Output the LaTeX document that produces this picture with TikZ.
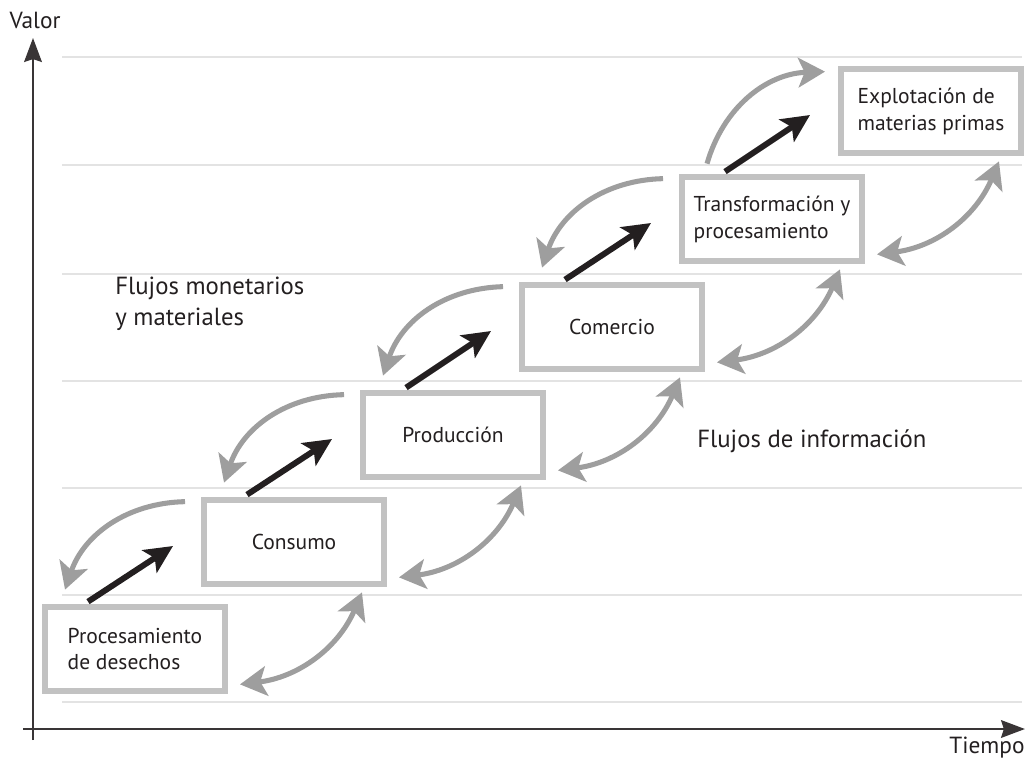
\documentclass[tikz,border=0pt]{standalone}
\usepackage{fontspec}
\setmainfont{PT Sans}
\usepackage{tikz}
\usetikzlibrary{arrows.meta,calc}
\definecolor{boxgray}{HTML}{C2C2C2}
\definecolor{flowgray}{HTML}{9E9E9E}
\definecolor{gridgray}{HTML}{E3E3E3}
\definecolor{ink}{HTML}{231F20}
\tikzstyle{stage} = [rectangle, draw=boxgray, line width=4.2pt, fill=white, minimum width=4.5cm, minimum height=2.12cm, align=left, text=ink, font=\fontsize{15.3}{19.2}\selectfont]
\tikzstyle{flowtext} = [inner sep=0pt, align=left, text=ink, font=\fontsize{17.6}{22}\selectfont]
\tikzstyle{axistext} = [inner sep=0pt, text=ink, font=\fontsize{16.6}{20}\selectfont]
\tikzset{
  money/.style = {ink, line width=4.2pt, -{Stealth[length=20pt, width=19pt, inset=4.5pt]}},
  goods/.style = {flowgray, line width=3.6pt, -{Stealth[length=19pt, width=21pt, inset=4.5pt]}},
  info/.style = {flowgray, line width=3.6pt, {Stealth[length=19pt, width=21pt, inset=4.5pt]}-{Stealth[length=19pt, width=21pt, inset=4.5pt]}},
  gridline/.style = {gridgray, line width=2pt},
  axis/.style = {ink!90, line width=1.9pt, -{Stealth[length=17pt, width=12.5pt, inset=2pt]}}
}

\begin{document}
\begin{tikzpicture}[x=0.025cm, y=-0.025cm]
    \useasboundingbox (0,0) rectangle (1027,759);

    % value levels
    \draw[gridline] (62,57) -- (1022,57);
    \draw[gridline] (62,165) -- (1022,165);
    \draw[gridline] (62,274) -- (1022,274);
    \draw[gridline] (62,381) -- (1022,381);
    \draw[gridline] (62,488) -- (1022,488);
    \draw[gridline] (62,595) -- (1022,595);
    \draw[gridline] (62,702) -- (1022,702);

    % axes
    \coordinate (o1) at (33,740);
    \coordinate (yend) at (33,38);
    \coordinate (o2) at (23,729);
    \coordinate (xend) at (1025,729);
    \draw[axis] (o1) -- (yend);
    \draw[axis] (o2) -- (xend);
    \node[axistext, anchor=base] (valor) at (35,28) {Valor};
    \node[axistext, anchor=base] (tiempo) at (987,753) {Tiempo};

    % vertices
    \node[stage] (n1) at (135,649) {Procesamiento\\de desechos};
    \node[stage] (n2) at (294,542) {Consumo};
    \node[stage] (n3) at (453,435) {Producción};
    \node[stage] (n4) at (612,327) {Comercio};
    \node[stage] (n5) at (772,219) {Transformación y\\procesamiento};
    \node[stage] (n6) at (931,111) {Explotación de\\materias primas};

    \node[flowtext, anchor=base west] (fm) at (115,325) {Flujos monetarios\\y materiales};
    \node[flowtext, anchor=base west] (fi) at (697,447) {Flujos de información};

    %edges
    \draw[money] ($(n1.north west)+(46,-2)$) to ($(n2.west)+(-28,4)$);
    \draw[money] ($(n2.north west)+(46,-2)$) to ($(n3.west)+(-28,4)$);
    \draw[money] ($(n3.north west)+(46,-2)$) to ($(n4.west)+(-28,4)$);
    \draw[money] ($(n4.north west)+(46,-2)$) to ($(n5.west)+(-28,4)$);
    \draw[money] ($(n5.north west)+(46,-2)$) to ($(n6.west)+(-28,4)$);

    \draw[goods] ($(n2.north west)+(-16,5)$) to [bend right=35] ($(n1.north west)+(23,-14)$);
    \draw[goods] ($(n3.north west)+(-16,5)$) to [bend right=35] ($(n2.north west)+(23,-14)$);
    \draw[goods] ($(n4.north west)+(-16,5)$) to [bend right=35] ($(n3.north west)+(23,-14)$);
    \draw[goods] ($(n5.north west)+(-16,5)$) to [bend right=35] ($(n4.north west)+(23,-14)$);
    \draw[goods] ($(n5.north west)+(28,-10)$) to [bend left=36] ($(n6.north west)+(-13,6)$);

    \draw[info] ($(n1.south east)+(12,-10)$) to [bend right=30] ($(n2.south east)+(-25,5)$);
    \draw[info] ($(n2.south east)+(12,-10)$) to [bend right=30] ($(n3.south east)+(-25,5)$);
    \draw[info] ($(n3.south east)+(12,-10)$) to [bend right=30] ($(n4.south east)+(-25,5)$);
    \draw[info] ($(n4.south east)+(12,-10)$) to [bend right=30] ($(n5.south east)+(-25,5)$);
    \draw[info] ($(n5.south east)+(12,-10)$) to [bend right=30] ($(n6.south east)+(-25,5)$);
\end{tikzpicture}
\end{document}
